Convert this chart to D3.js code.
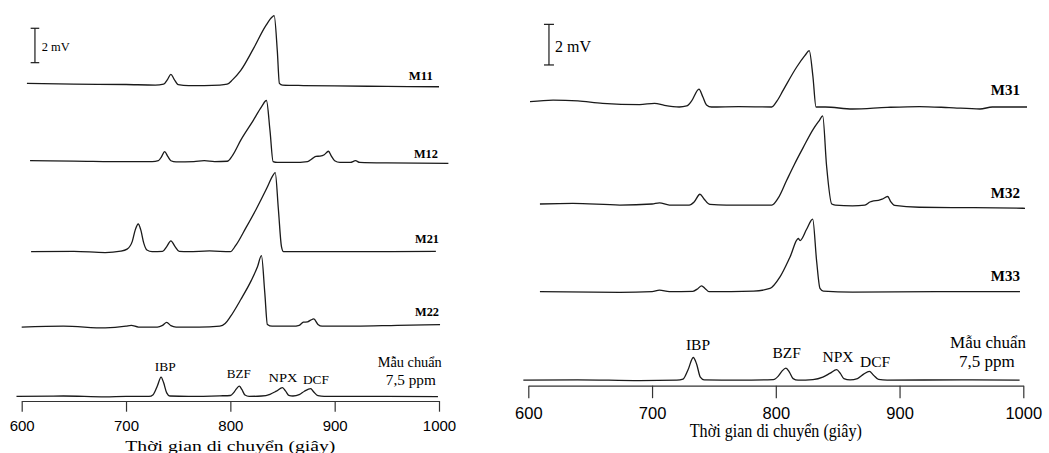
<!DOCTYPE html>
<html><head><meta charset="utf-8">
<script src="https://cdn.jsdelivr.net/npm/d3@7"></script>
<style>body{margin:0;background:#fff}svg{display:block}</style>
</head><body>
<svg id="chart" width="1049" height="453"></svg>
<script>
// ---------------- DATA ----------------
const timeTicks = [600, 700, 800, 900, 1000];
const axisTitle = "Thời gian di chuyển (giây)";
const scaleBarLabel = "2 mV";
const scaleBarMv = 2;
const standardName = ["Mẫu chuẩn", "7,5 ppm"];
const peakNames = ["IBP", "BZF", "NPX", "DCF"];

// left panel
const leftNames = ["M11", "M12", "M21", "M22", "std"];
const leftOffsets = [18.37, 13.92, 8.68, 4.30, 0.27];   // mV stacking offsets
const m11 = [[605,0.1],[650,0.05],[700,0.03],[728,0],[736,0.05],[740,0.35],[743,0.62],[746,0.35],[750,0.02],[760,-0.03],[790,0],[797,0.05],[802,0.3],[810,0.85],[822,2.1],[834,3.45],[840,3.95],[842,4.03],[845,2.0],[847,0.1],[850,0],[870,-0.03],[900,-0.05],[950,-0.08],[1000,-0.1]];
const m12 = [[608,0.05],[650,0.03],[700,0],[725,0],[731,0.05],[734,0.28],[737,0.58],[740,0.3],[743,0.05],[748,-0.02],[765,0],[775,0.05],[785,0],[797,0.02],[802,0.35],[810,1.25],[822,2.4],[830,3.2],[834.6,3.55],[838,1.8],[841,0.0],[845,-0.05],[860,-0.05],[874,0],[878,0.15],[882,0.3],[886,0.32],[890,0.4],[894,0.6],[897,0.3],[900,0.05],[905,-0.05],[915,-0.05],[920,0.05],[924,-0.05],[950,-0.08],[1009,-0.1]];
const m21 = [[609,0],[650,0.02],[680,-0.05],[695,0.03],[701,0.15],[706,0.6],[709,1.3],[711.7,1.61],[714,1.3],[717,0.5],[720,0.1],[725,0],[735,0.02],[739,0.3],[743,0.63],[747,0.3],[751,0.02],[760,0],[780,0.05],[800,0],[805,0.35],[815,1.4],[825,2.5],[835,3.7],[841,4.45],[843,4.6],[846,2.5],[849,0.3],[851,0],[870,0],[920,0],[997,0.02]];
const m22 = [[600,0],[640,0.05],[680,-0.05],[700,0.05],[705,0.1],[712,0],[730,0],[735,0.1],[739,0.27],[743,0.08],[748,0],[770,0],[790,0.05],[795,0.2],[800,0.6],[810,1.6],[820,2.7],[826,3.5],[829.8,4.15],[833,2.0],[835.5,0.15],[840,0.05],[860,0.05],[866,0.1],[870,0.28],[874,0.3],[877,0.4],[880,0.47],[884,0.15],[888,0.05],[920,0.05],[960,0.1],[1001,0.14]];
const stdLeft = [[595,0],[640,0.02],[680,-0.03],[700,0],[722,0],[726,0.1],[730,0.6],[733.6,1.12],[736,0.8],[739,0.2],[742,0.02],[760,0],[790,0.03],[800,0.05],[803,0.2],[806,0.45],[808.6,0.59],[811,0.4],[814,0.08],[818,0],[830,0.02],[838,0.12],[844,0.3],[850,0.51],[853,0.3],[856,0.06],[860,0.02],[866,0.1],[871,0.3],[877,0.45],[880,0.25],[884,0.04],[890,0],[950,0],[999,-0.02]];

// right panel
const rightNames = ["M31", "M32", "M33", "std"];
const rightOffsets = [13.73, 8.85, 4.63, 0.27];
const m31 = [[601.4,0.26],[620,0.34],[640,0.3],[660,0.18],[690,0.12],[702,0.18],[710,0.08],[722,0],[728,0.05],[732,0.3],[737.9,0.88],[741,0.5],[744,0.1],[748,0],[770,0.02],[796.7,0],[801,0.3],[806,0.83],[816.9,1.97],[823.6,2.54],[827,2.78],[830,1.5],[832.5,0],[840,0],[862,-0.1],[890,-0.02],[916,0.02],[940,-0.03],[965,-0.1],[975,0],[1003,0]];
const m32 = [[609.4,0.1],[636,0.13],[674,0.05],[700,0.1],[706,0.16],[714,0.05],[730,0.05],[734,0.2],[738.7,0.58],[742,0.35],[746.8,0.08],[760,0.05],[782,0.05],[796.8,0.05],[802,0.4],[808.8,1.27],[815,2.05],[822.2,2.89],[830.3,3.79],[835,4.2],[837.9,4.44],[841,2.0],[845.2,0.1],[848,0.05],[862,0.01],[872,0.05],[876,0.2],[879,0.26],[882.9,0.28],[886,0.34],[890.4,0.47],[893,0.2],[896,0.03],[916,-0.06],[960,-0.08],[1001.4,-0.11]];
const m33 = [[609.4,0],[674,-0.03],[700,0],[706,0.08],[714,0],[733,0.02],[737,0.15],[740,0.29],[743,0.15],[746,0],[782,0.03],[795.3,0.16],[803.4,0.73],[811.5,1.71],[818.2,2.62],[819.6,2.52],[825,3.09],[829.8,3.58],[833,1.5],[835.7,0.16],[838.4,0.03],[862,-0.02],[930,0],[997.3,0]];
const stdRight = [[596,0],[640,0.02],[690,-0.02],[720,0],[725,0.05],[729,0.5],[733.3,1.12],[736,0.8],[739,0.15],[742,0.02],[770,0],[798,0.03],[802,0.2],[805,0.45],[808.2,0.6],[811,0.4],[814,0.08],[818,0],[830,0.03],[838,0.15],[844,0.35],[849.2,0.52],[852,0.35],[855,0.08],[860,0.02],[866,0.08],[871,0.3],[875.6,0.44],[879,0.25],[883,0.04],[890,0],[950,0.02],[997,0]];

// ---------------- DRAW ----------------
const svg = d3.select("#chart");
const SERIF = "'Liberation Serif','Times New Roman',serif";
const SANS = "'Liberation Sans',Arial,sans-serif";
const INK = "#1a1a1a";

function panel(o) {
  const x = d3.scaleLinear().domain([600, 1000]).range(o.xRange);
  const y = d3.scaleLinear().domain([0, 1]).range([o.axisY, o.axisY - o.pxPerMv]);
  const g = svg.append("g");

  o.series.forEach((s, i) => {
    const off = o.offsets[i];
    const line = d3.line().x(d => x(d[0])).y(d => y(d[1] + off)).curve(d3.curveMonotoneX);
    g.append("path").datum(s).attr("d", line)
      .attr("fill", "none").attr("stroke", INK).attr("stroke-width", 1.3)
      .attr("stroke-linejoin", "round");
  });

  const txt = (sel, L, size, anchor, len) => {
    sel.attr("x", L[0]).attr("y", L[1]).attr("text-anchor", anchor)
      .attr("font-family", SERIF).attr("font-size", size).attr("fill", "#000");
    if (len) sel.attr("textLength", len).attr("lengthAdjust", "spacingAndGlyphs");
    return sel;
  };

  // sample labels
  o.names.forEach((n, i) => {
    if (n === "std") return;
    const L = o.nameLabel[i];
    txt(g.append("text"), [x(L[0]), y(o.offsets[i] + L[1])], o.nameSize, "end", o.nameLen)
      .attr("font-weight", "bold").text(n);
  });

  // peak labels on standard
  peakNames.forEach((p, i) => {
    const L = o.peakLabel[i];
    txt(g.append("text"), [x(L[0]), y(L[1])], o.peakSize, "middle", o.peakLen ? o.peakLen[i] : null).text(p);
  });
  standardName.forEach((t, i) => {
    const L = o.stdLabel[i];
    txt(g.append("text"), [x(L[0]), y(L[1])], o.stdSize, "middle", o.stdLen ? o.stdLen[i] : null).text(t);
  });

  // scale bar
  const sb = o.scaleBar;
  const sx = x(sb[0]);
  g.append("line").attr("x1", sx).attr("x2", sx).attr("y1", y(sb[1])).attr("y2", y(sb[1] + scaleBarMv))
    .attr("stroke", INK).attr("stroke-width", 1.2);
  [sb[1], sb[1] + scaleBarMv].forEach(v => {
    g.append("line").attr("x1", sx - o.cap).attr("x2", sx + o.cap).attr("y1", y(v)).attr("y2", y(v))
      .attr("stroke", INK).attr("stroke-width", 1.2);
  });
  txt(g.append("text"), [x(o.scaleText[0]), y(o.scaleText[1])], o.sbSize, "start", o.sbLen).text(scaleBarLabel);

  // axis
  const ax = g.append("g").attr("transform", `translate(0,${o.axisY})`)
    .call(d3.axisBottom(x).tickValues(timeTicks).tickSize(o.tickLen).tickSizeOuter(0)
      .tickPadding(o.tickPad).tickFormat(d3.format("d")));
  ax.select(".domain").attr("stroke", "#333").attr("stroke-width", 1.2);
  ax.selectAll(".tick line").attr("stroke", "#333").attr("stroke-width", 1.2);
  ax.selectAll(".tick text").attr("font-family", SANS).attr("font-size", o.tickSize).attr("fill", "#000");

  txt(g.append("text"), [(o.xRange[0] + o.xRange[1]) / 2, o.titleY], o.titleSize, "middle", o.titleLen).text(axisTitle);
}

panel({
  xRange: [21.7, 439], axisY: 401, pxPerMv: 17.2,
  series: [m11, m12, m21, m22, stdLeft], offsets: leftOffsets, names: leftNames,
  nameLabel: [[994, 0.3], [999, 0.2], [1000, 0.5], [1000, 0.64]], nameSize: 12.5, nameLen: 24,
  peakLabel: [[737.5, 1.74], [808, 1.34], [850.4, 1.12], [882, 0.99]], peakSize: 13, peakLen: [21, 24, 29, 26],
  stdLabel: [[972, 1.95], [973, 0.92]], stdSize: 14, stdLen: [64, 50],
  scaleBar: [612.7, 19.67], cap: 4.3, scaleText: [619.2, 20.35], sbSize: 13, sbLen: 28,
  tickLen: 10.7, tickPad: 8.3, tickSize: 15,
  titleY: 451, titleSize: 15, titleLen: 210
});

panel({
  xRange: [528.3, 1023.3], axisY: 385.7, pxPerMv: 20.3,
  series: [m31, m32, m33, stdRight], offsets: rightOffsets, names: rightNames,
  nameLabel: [[997.3, 0.59], [997.3, 0.39], [997.3, 0.53]], nameSize: 15,
  peakLabel: [[737.1, 1.76], [808.8, 1.35], [850.3, 1.18], [880.2, 0.94]], peakSize: 15.5,
  stdLabel: [[971.5, 1.88], [970.6, 0.9]], stdSize: 17,
  scaleBar: [616.7, 15.8], cap: 5, scaleText: [621.6, 16.45], sbSize: 16,
  tickLen: 12.5, tickPad: 9.4, tickSize: 16.5,
  titleY: 437, titleSize: 18, titleLen: 172
});
</script>
</body></html>
